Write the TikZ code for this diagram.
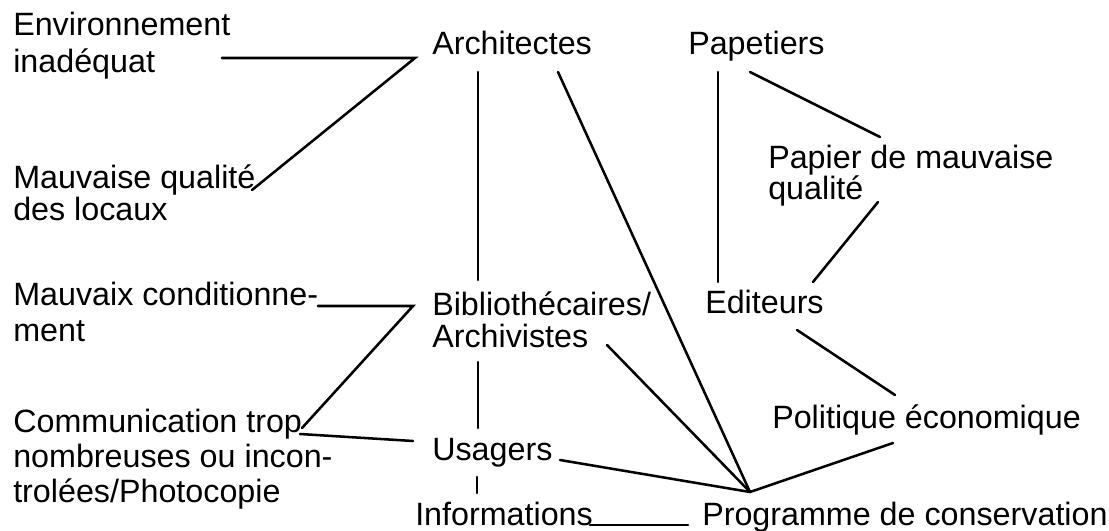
\documentclass[tikz,border=0pt]{standalone}
\usepackage{fontspec}
\setmainfont{Liberation Sans}
\usetikzlibrary{positioning}

\begin{document}
\begin{tikzpicture}[
		x=0.75pt, y=-0.75pt,
		% Styles des textes et des traits
		etiquette/.style={anchor=base west, align=left, inner sep=0pt, font=\fontsize{24.2}{26.25}\selectfont},
		interligne/.style={font=\fontsize{24.2}{#1}\selectfont},
		trait/.style={line width=1.9pt, line cap=round, line join=miter},
		]
		
		\useasboundingbox (0,0) rectangle (1109,531);
		
		% Causes, a gauche (ancre sur la derniere ligne)
		\node[etiquette, interligne=27.75] (env) at (13,73) {Environnement\\inadéquat};
		\node[etiquette, interligne=20.25] (locaux) at (13,220) {Mauvaise qualité\\des locaux};
		\node[etiquette, interligne=27] (condit) at (13,341) {Mauvaix conditionne-\\ment};
		\node[etiquette] (commu) at (13,502) {Communication trop\\nombreuses ou incon-\\trolées/Photocopie};
		
		% Acteurs
		\node[etiquette] (archi) at (432,55) {Architectes};
		\node[etiquette] (papet) at (688,55) {Papetiers};
		\node[etiquette, interligne=23.25] (papier) at (768,199) {Papier de mauvaise\\qualité};
		\node[etiquette, interligne=24] (biblio) at (432,347) {Bibliothécaires/\\Archivistes};
		\node[etiquette] (edit) at (705,313) {Editeurs};
		\node[etiquette] (polit) at (772,428) {Politique économique};
		\node[etiquette] (usag) at (432,460) {Usagers};
		\node[etiquette] (infos) at (415,525) {Informations};
		\node[etiquette] (prog) at (702,525) {Programme de conservation};
		
		% Points de jonction
		\coordinate (envA) at (222,58);
		\coordinate (envJ) at (415,58);
		\coordinate (locauxE) at (252,190);
		\coordinate (conditA) at (318,306);
		\coordinate (conditJ) at (413,306);
		\coordinate (commuN) at (302,428);
		\coordinate (commuE) at (300,434);
		\coordinate (usagW) at (413,441);
		\coordinate (archiS) at (478,72);
		\coordinate (biblioN) at (478,280);
		\coordinate (biblioS) at (478,362);
		\coordinate (usagN) at (478,428);
		\coordinate (usagS) at (477,477);
		\coordinate (infosN) at (477,493);
		\coordinate (archiD) at (558,72);
		\coordinate (biblioD) at (607,345);
		\coordinate (usagE) at (560,460);
		\coordinate (politS) at (893,443);
		\coordinate (hub) at (750,492);
		\coordinate (papetS) at (718,72);
		\coordinate (editN) at (718,282);
		\coordinate (papetD) at (750,72);
		\coordinate (papierN) at (880,137);
		\coordinate (papierS) at (878,202);
		\coordinate (editD) at (813,282);
		\coordinate (editS) at (797,330);
		\coordinate (politN) at (895,395);
		\coordinate (infosE) at (590,525);
		\coordinate (progW) at (688,525);
		
		% Liaisons
		\draw[trait] (envA) -- (envJ) -- (locauxE);
		\draw[trait] (conditA) -- (conditJ) -- (commuN);
		\draw[trait] (commuE) -- (usagW);
		\draw[trait] (archiS) -- (biblioN);
		\draw[trait] (biblioS) -- (usagN);
		\draw[trait] (usagS) -- (infosN);
		\draw[trait] (papetS) -- (editN);
		\draw[trait] (papetD) -- (papierN);
		\draw[trait] (papierS) -- (editD);
		\draw[trait] (editS) -- (politN);
		\draw[trait] (infosE) -- (progW);
		
		% Vers le programme de conservation
		\draw[trait] (archiD) -- (hub);
		\draw[trait] (biblioD) -- (hub);
		\draw[trait] (usagE) -- (hub);
		\draw[trait] (politS) -- (hub);
		
	\end{tikzpicture}
\end{document}
